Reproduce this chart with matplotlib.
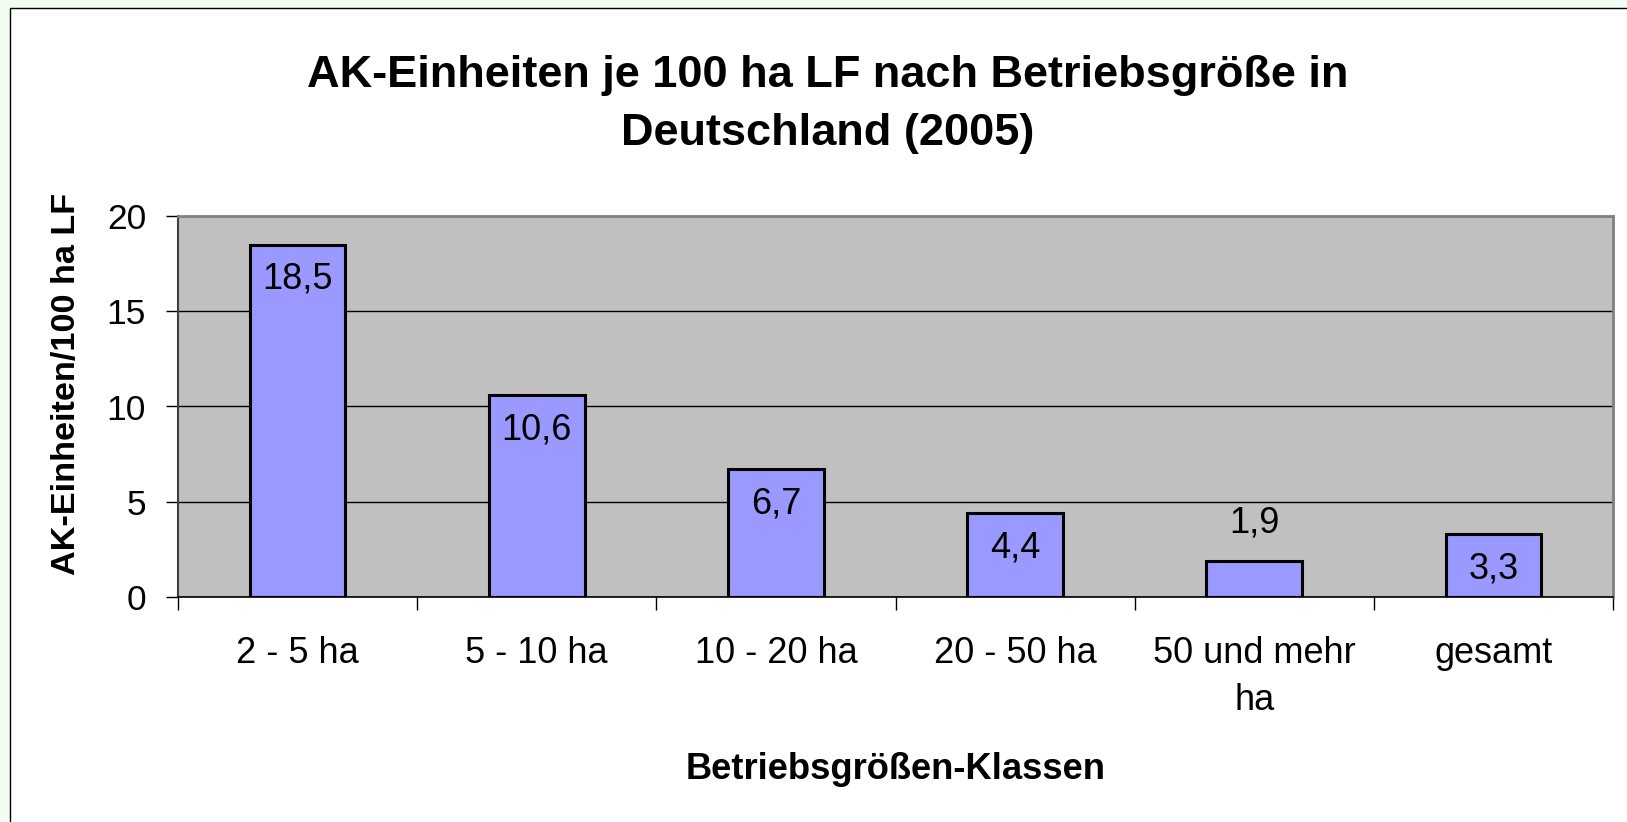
import matplotlib
matplotlib.use("Agg")
import matplotlib.pyplot as plt
from matplotlib.patches import Rectangle
import numpy as np

categories = ["2 - 5 ha", "5 - 10 ha", "10 - 20 ha", "20 - 50 ha", "50 und mehr\nha", "gesamt"]
values = [18.5, 10.6, 6.7, 4.4, 1.9, 3.3]
value_labels = ["18,5", "10,6", "6,7", "4,4", "1,9", "3,3"]
y_ticks = [0, 5, 10, 15, 20]

title = "AK-Einheiten je 100 ha LF nach Betriebsgröße in\nDeutschland (2005)"
x_label = "Betriebsgrößen-Klassen"
y_label = "AK-Einheiten/100 ha LF"

W, H = 1627, 822
fig = plt.figure(figsize=(W / 100, H / 100), dpi=100)
fig.patch.set_facecolor("#f2fdf2")
fig.patches.append(Rectangle((10 / W, -0.1), 1.2, 1.1 - 8 / H, transform=fig.transFigure,
                             facecolor="white", edgecolor="black", linewidth=1.0, zorder=-5))

plt.rcParams["font.family"] = ["Liberation Sans", "DejaVu Sans"]

ax = fig.add_axes([178 / W, 1 - 597 / H, (1613 - 178) / W, (597 - 216) / H])
ax.set_zorder(2)
ax.set_facecolor("#c0c0c0")

x = np.arange(len(categories))
ax.bar(x, values, width=0.4, color="#9999ff", edgecolor="black", linewidth=2.2, zorder=3)

ax.set_xlim(-0.5, len(categories) - 0.5)
ax.set_ylim(0, 20)
ax.set_yticks(y_ticks)
ax.set_yticklabels([str(t) for t in y_ticks], fontsize=25.5)
ax.yaxis.grid(True, color="black", linewidth=1.0, zorder=1)
ax.set_axisbelow(True)
ax.tick_params(axis="y", length=9, width=1, color="black", pad=14)

ax.set_xticks(x)
ax.set_xticklabels(categories, fontsize=26, linespacing=1.45)
ax.tick_params(axis="x", which="major", length=0, pad=28)
ax.set_xticks(np.arange(-0.5, len(categories)), minor=True)
ax.tick_params(axis="x", which="minor", length=9, width=1, color="black")

for side in ["top", "right"]:
    ax.spines[side].set_color("#808080")
    ax.spines[side].set_linewidth(2)
ax.spines["left"].set_color("#404040")
ax.spines["left"].set_linewidth(1.5)
ax.spines["bottom"].set_color("black")
ax.spines["bottom"].set_linewidth(1.2)

for xi, v, lab in zip(x, values, value_labels):
    if v < 2.5:
        ax.annotate(lab, (xi, v), xytext=(0, 27), textcoords="offset points",
                    ha="center", va="center", fontsize=26, zorder=4)
    else:
        ax.annotate(lab, (xi, v), xytext=(0, -25), textcoords="offset points",
                    ha="center", va="center", fontsize=26, zorder=4)

fig.text(828 / W, 1 - 104.5 / H, title, ha="center", va="center", fontsize=32.5,
         fontweight="bold", linespacing=1.54)
fig.text(896 / W, 1 - 769 / H, x_label, ha="center", va="center", fontsize=26.2, fontweight="bold")
fig.text(67 / W, 1 - 384 / H, y_label, ha="center", va="center", fontsize=24.7,
         fontweight="bold", rotation=90)

fig.savefig("out.png", dpi=100, facecolor=fig.get_facecolor())
